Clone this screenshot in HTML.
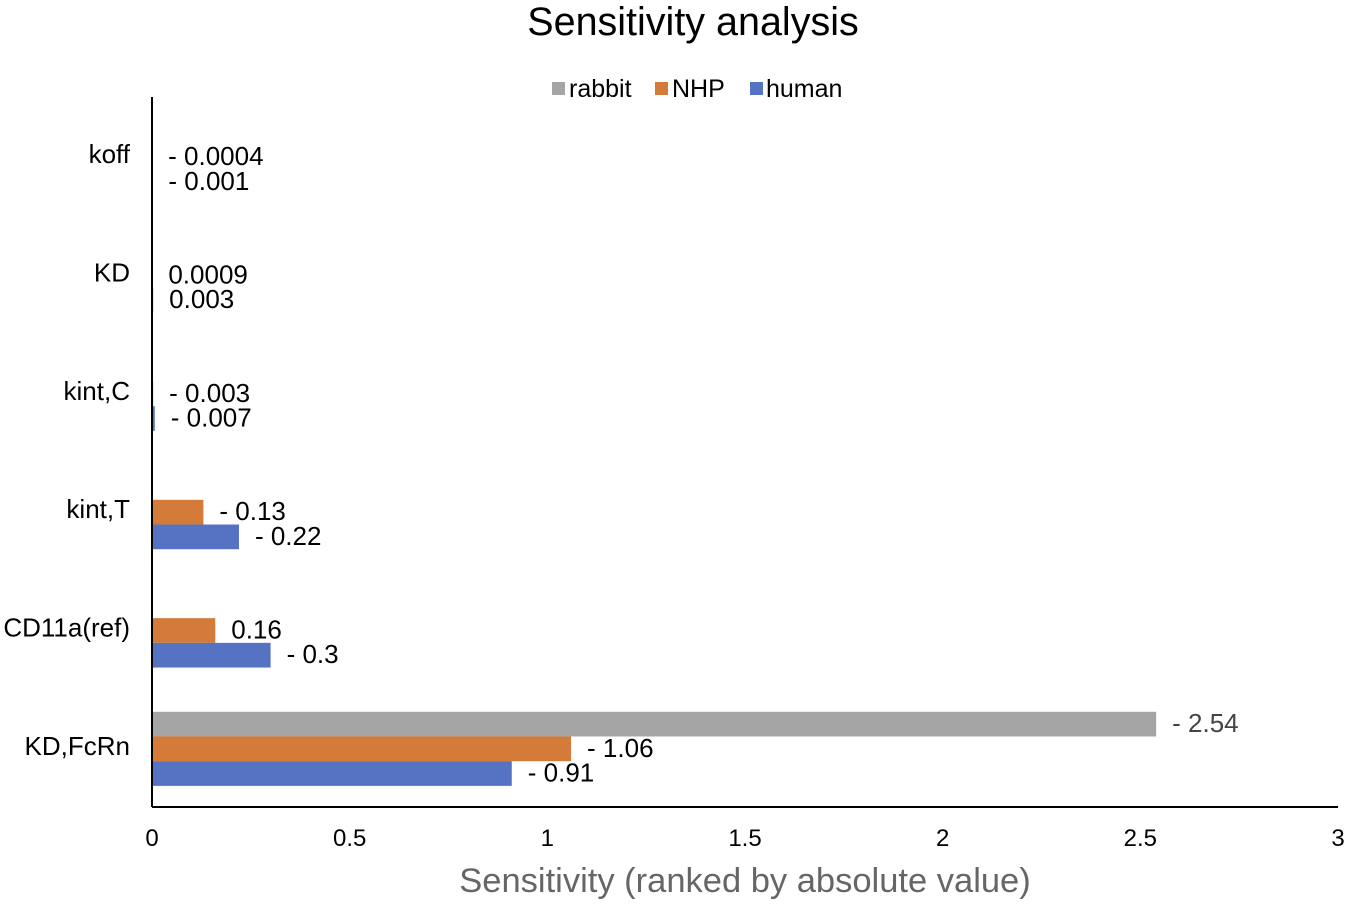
<!DOCTYPE html>
<html><head><meta charset="utf-8"><style>
body{margin:0;background:#fff;}
svg text{font-family:"Liberation Sans",Arial,sans-serif;}
</style></head><body>
<svg id="chart" width="1350" height="904" viewBox="0 0 1350 904" xmlns="http://www.w3.org/2000/svg">
<rect width="1350" height="904" fill="#fff"/>
<text x="693" y="35" font-size="39.5" text-anchor="middle" fill="#000">Sensitivity analysis</text>
<g>
<g><rect x="552" y="82" width="13" height="13" fill="#a5a5a5"/><text x="569" y="97" font-size="25" fill="#000">rabbit</text></g>
<g><rect x="655" y="82" width="13" height="13" fill="#d47b3a"/><text x="672" y="97" font-size="25" fill="#000">NHP</text></g>
<g><rect x="750" y="82" width="13" height="13" fill="#5572c3"/><text x="766" y="97" font-size="25" fill="#000">human</text></g>
</g>
<g id="plot"></g>
<text x="745" y="892" font-size="34.5" text-anchor="middle" fill="#666">Sensitivity (ranked by absolute value)</text>
</svg>
<script>
const categories = ["koff","KD","kint,C","kint,T","CD11a(ref)","KD,FcRn"];
const rabbit = [null,null,null,null,null,-2.54];
const nhp = [-0.0004,0.0009,-0.003,-0.13,0.16,-1.06];
const human = [-0.001,0.003,-0.007,-0.22,-0.3,-0.91];
const xTicks = ["0","0.5","1","1.5","2","2.5","3"];

const NS="http://www.w3.org/2000/svg";
const g=document.getElementById('plot');
const x0=152, x1=1338, yTop=97, yBot=807, xMax=3;
const band=(yBot-yTop)/categories.length;
const barH=24.7;
const xs=v=>x0+(Math.abs(v)/xMax)*(x1-x0);
function el(t,a){const e=document.createElementNS(NS,t);for(const k in a)e.setAttribute(k,a[k]);g.appendChild(e);return e;}
const series=[{d:rabbit,c:"#a5a5a5",n:"rabbit",lc:"#444"},{d:nhp,c:"#d47b3a",n:"nhp",lc:"#000"},{d:human,c:"#5572c3",n:"human",lc:"#000"}];
categories.forEach((cat,i)=>{
  const cy=yTop+band*i+band/2;
  const t=el('text',{x:130,y:cy+7,'font-size':26,'text-anchor':'end',fill:'#000'});
  
  
  t.textContent=cat;
  series.forEach((s,j)=>{
    const v=s.d[i]; if(v===null)return;
    const y=cy-1.5*barH+j*barH+1;
    const w=xs(v)-x0;
    const r=el('rect',{x:x0,y:y,width:Math.max(w,0),height:barH,fill:s.c});
    
    
    const lbl=el('text',{x:x0+w+16,y:y+barH/2+8,'font-size':26,fill:s.lc});
    
    
    lbl.textContent=(v<0?"- ":"")+String(Math.abs(v));
  });
});
el('line',{x1:x0,y1:yTop,x2:x0,y2:yBot,stroke:'#000','stroke-width':2});
el('line',{x1:x0,y1:yBot,x2:x1,y2:yBot,stroke:'#000','stroke-width':2});
xTicks.forEach(tk=>{
  const t=el('text',{x:xs(parseFloat(tk)),y:846,'font-size':24,'text-anchor':'middle',fill:'#000'});
  
  
  t.textContent=tk;
});
</script>
</body></html>
